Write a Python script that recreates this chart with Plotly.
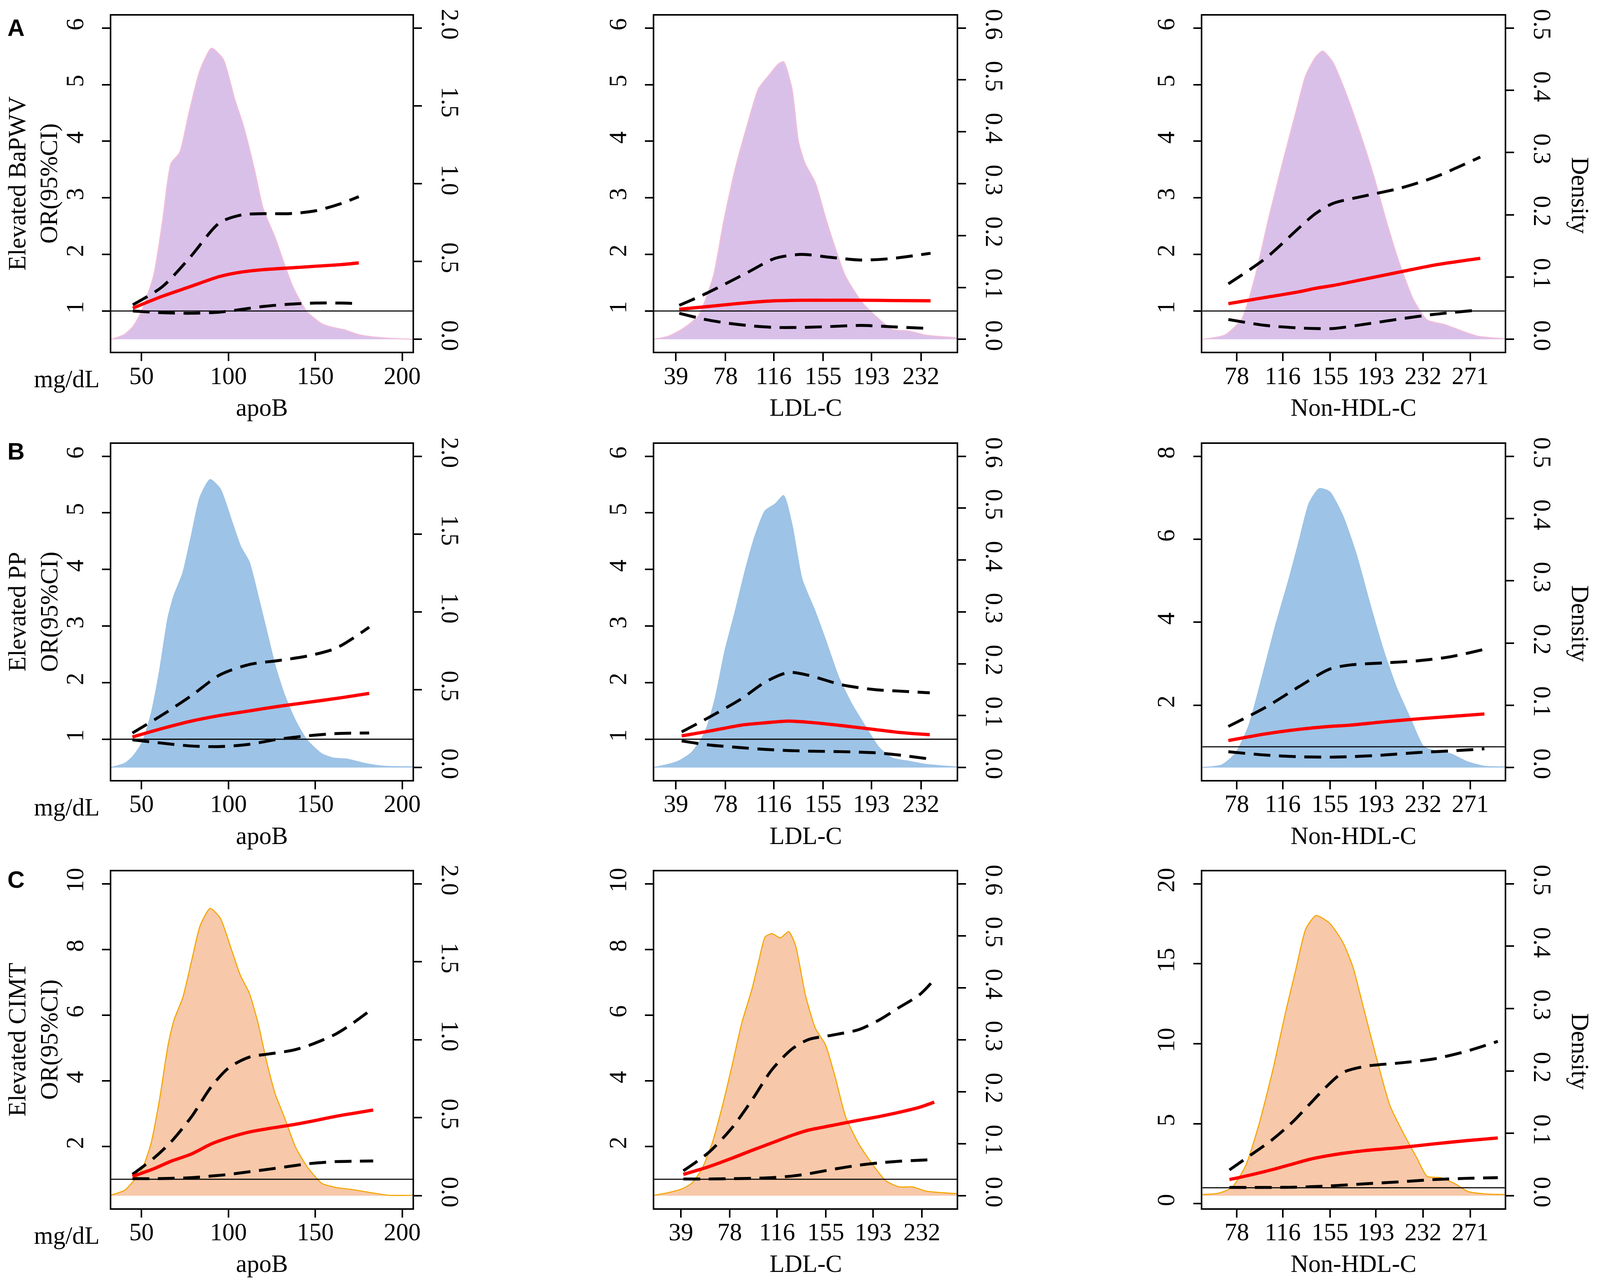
import plotly.graph_objects as go

# reference picture size (positions below are given in its pixels)
W, H = 4562, 3291
# the page is drawn at a slightly larger device scale, so sizes in px are scaled down
S = 0.93

# ------------------------------------------------------------------
# Values
# ------------------------------------------------------------------
# --- Row A: Elevated BaPWV ---
a_apob_dx = [32.6, 40, 45, 50, 57, 62, 67, 72, 77, 83.7, 90.3, 97, 103.7, 108.7, 115, 120, 127, 132,
             137, 145, 153.7, 158.7, 167, 175, 183.7, 195, 206]
a_apob_d = [0.0, 0.03, 0.08, 0.18, 0.41, 0.75, 1.13, 1.20, 1.44, 1.73, 1.87, 1.80, 1.54, 1.37, 1.09, 0.84,
            0.65, 0.49, 0.34, 0.18, 0.10, 0.08, 0.06, 0.03, 0.015, 0.005, 0.0]
a_apob_x = [45, 62, 78, 95, 108, 120, 135, 150, 165, 175]
a_apob_or = [1.05, 1.26, 1.43, 1.61, 1.69, 1.73, 1.76, 1.79, 1.82, 1.85]
a_apob_hi = [1.11, 1.43, 1.95, 2.56, 2.70, 2.72, 2.72, 2.77, 2.90, 3.02]
a_apob_lo = [1.00, 0.97, 0.96, 0.98, 1.03, 1.08, 1.12, 1.14, 1.14, 1.13]

a_ldl_dx = [21.9, 33, 43.5, 56.6, 68.5, 76.4, 85.6, 96.1, 104, 111.9, 119.8, 123.8, 130.4, 135.6, 140.9,
            148.8, 158, 172.5, 185.7, 196.2, 209.4, 222.5, 235.7, 260]
a_ldl_d = [0.0, 0.006, 0.019, 0.045, 0.122, 0.225, 0.328, 0.421, 0.483, 0.508, 0.531, 0.535, 0.483, 0.380,
           0.338, 0.302, 0.225, 0.122, 0.071, 0.045, 0.019, 0.016, 0.008, 0.003]
a_ldl_x = [41.6, 60, 78, 97, 117, 138, 160, 185, 210, 239.6]
a_ldl_or = [1.03, 1.07, 1.11, 1.15, 1.18, 1.19, 1.19, 1.19, 1.185, 1.18]
a_ldl_hi = [1.10, 1.28, 1.48, 1.70, 1.93, 2.00, 1.95, 1.90, 1.93, 2.02]
a_ldl_lo = [0.96, 0.86, 0.79, 0.74, 0.71, 0.71, 0.725, 0.745, 0.72, 0.69]

a_nhdl_dx = [49.6, 68.3, 82.2, 93.3, 104.5, 115.6, 126.7, 135, 143.4, 149, 157.4, 168.5, 179.6, 190.8,
             201.9, 213, 224.2, 235.3, 249.3, 263.2, 277.1, 299.4]
a_nhdl_d = [0.0, 0.007, 0.033, 0.102, 0.196, 0.282, 0.364, 0.424, 0.454, 0.463, 0.445, 0.394, 0.333, 0.265,
            0.188, 0.119, 0.063, 0.031, 0.024, 0.014, 0.005, 0.001]
a_nhdl_x = [71, 101.7, 129.5, 143, 157.4, 185.2, 213, 241, 279.3]
a_nhdl_or = [1.13, 1.24, 1.34, 1.40, 1.45, 1.57, 1.69, 1.81, 1.93]
a_nhdl_hi = [1.48, 1.93, 2.47, 2.72, 2.90, 3.04, 3.17, 3.36, 3.72]
a_nhdl_lo = [0.85, 0.745, 0.70, 0.69, 0.69, 0.77, 0.86, 0.94, 1.02]

# --- Row B: Elevated PP ---
b_apob_dx = [32.5, 40.3, 45, 50.3, 55.3, 60.3, 65.3, 68.7, 73.7, 78.7, 83.7, 89.5, 95.3, 102, 107, 112,
             117, 122, 127, 132, 138.7, 145.3, 153.7, 160.3, 168.7, 178.7, 188.7, 206]
b_apob_d = [0.0, 0.026, 0.07, 0.158, 0.333, 0.614, 0.965, 1.105, 1.246, 1.49, 1.737, 1.85, 1.79, 1.58,
            1.42, 1.32, 1.105, 0.877, 0.65, 0.474, 0.298, 0.175, 0.088, 0.061, 0.053, 0.026, 0.009, 0.004]
b_apob_x = [44.8, 62, 78.7, 95.3, 112, 128.7, 145.3, 162, 181]
b_apob_or = [1.04, 1.19, 1.32, 1.42, 1.50, 1.58, 1.65, 1.72, 1.81]
b_apob_hi = [1.11, 1.43, 1.77, 2.14, 2.32, 2.39, 2.47, 2.61, 2.98]
b_apob_lo = [0.99, 0.93, 0.88, 0.87, 0.91, 1.00, 1.06, 1.10, 1.11]

b_ldl_dx = [21.9, 33, 40.8, 51.4, 61.9, 69.8, 77.7, 85.6, 93.5, 101.4, 109.3, 117.2, 123.8, 130.4, 138.3,
            148.8, 156.7, 167.2, 177.8, 188.3, 198.8, 209.4, 222.5, 235.7, 260]
b_ldl_d = [0.0, 0.006, 0.012, 0.029, 0.068, 0.132, 0.226, 0.30, 0.379, 0.447, 0.495, 0.508, 0.524, 0.468,
           0.363, 0.30, 0.247, 0.174, 0.121, 0.079, 0.039, 0.018, 0.012, 0.006, 0.001]
b_ldl_x = [43.5, 64.5, 90.9, 109.3, 127.7, 143.5, 169.9, 196.2, 215, 239]
b_ldl_or = [1.06, 1.14, 1.25, 1.29, 1.32, 1.30, 1.24, 1.17, 1.12, 1.08]
b_ldl_hi = [1.13, 1.38, 1.72, 2.01, 2.18, 2.13, 1.96, 1.875, 1.85, 1.82]
b_ldl_lo = [0.97, 0.90, 0.85, 0.82, 0.80, 0.79, 0.78, 0.76, 0.72, 0.65]

b_nhdl_dx = [49.6, 65.5, 76.6, 87.7, 98.9, 110, 121.2, 129.5, 137.9, 146.2, 154.6, 165.7, 176.8, 188,
             199.1, 210.3, 221.4, 232.6, 243.7, 254.8, 268.8, 282.7, 299.4]
b_nhdl_d = [0.0, 0.004, 0.022, 0.066, 0.145, 0.228, 0.303, 0.364, 0.425, 0.448, 0.443, 0.404, 0.342, 0.263,
            0.189, 0.127, 0.079, 0.033, 0.026, 0.022, 0.009, 0.002, 0.001]
b_nhdl_x = [71, 101.7, 129.5, 154.6, 171.3, 199.1, 227, 254.8, 282.7]
b_nhdl_or = [1.15, 1.31, 1.42, 1.49, 1.52, 1.60, 1.67, 1.73, 1.79]
b_nhdl_hi = [1.49, 1.95, 2.45, 2.87, 2.97, 3.02, 3.07, 3.17, 3.35]
b_nhdl_lo = [0.88, 0.80, 0.76, 0.75, 0.76, 0.80, 0.86, 0.90, 0.95]

# --- Row C: Elevated CIMT ---
c_apob_dx = [32.5, 40.3, 45, 50.3, 55.3, 60.3, 65.3, 68.7, 73.7, 78.7, 83.7, 89.5, 95.3, 102, 107, 112,
             117, 122, 127, 132, 138.7, 145.3, 153.7, 162, 170.3, 180.3, 192, 206]
c_apob_d = [0.004, 0.035, 0.089, 0.169, 0.328, 0.612, 0.967, 1.127, 1.269, 1.50, 1.73, 1.842, 1.78, 1.57,
            1.41, 1.30, 1.11, 0.86, 0.65, 0.51, 0.31, 0.186, 0.08, 0.053, 0.041, 0.023, 0.003, 0.003]
c_apob_x = [44.8, 57, 67, 78.7, 90.3, 100.3, 112, 123.7, 137, 147, 162, 172, 183.3]
c_apob_or = [1.09, 1.32, 1.55, 1.77, 2.08, 2.27, 2.44, 2.55, 2.66, 2.76, 2.92, 3.01, 3.11]
c_apob_hi = [1.15, 1.64, 2.14, 2.90, 3.83, 4.40, 4.72, 4.82, 4.93, 5.09, 5.43, 5.77, 6.21]
c_apob_lo = [1.02, 1.02, 1.03, 1.05, 1.10, 1.15, 1.23, 1.31, 1.41, 1.48, 1.54, 1.55, 1.56]

c_ldl_dx = [17.6, 28.8, 39.5, 47.6, 55.6, 63.7, 71.7, 79.7, 87.8, 95.8, 101.2, 106.5, 111.9, 118.6, 125.3,
            130.7, 138.7, 146.7, 154.8, 162.8, 170.9, 181.6, 192.3, 203, 213.7, 224.5, 235.2, 259.9]
c_ldl_d = [0.001, 0.006, 0.013, 0.024, 0.051, 0.099, 0.168, 0.248, 0.333, 0.397, 0.45, 0.498, 0.504, 0.496,
           0.508, 0.482, 0.386, 0.322, 0.29, 0.226, 0.152, 0.099, 0.061, 0.029, 0.017, 0.017, 0.009, 0.004]
c_ldl_x = [40.9, 61, 79.7, 95.8, 111.9, 128, 141.4, 160.1, 181.6, 197.7, 213.7, 229.8, 241.9]
c_ldl_or = [1.15, 1.38, 1.64, 1.88, 2.11, 2.34, 2.50, 2.64, 2.80, 2.91, 3.04, 3.19, 3.35]
c_ldl_hi = [1.26, 1.81, 2.56, 3.41, 4.34, 4.97, 5.26, 5.39, 5.56, 5.85, 6.23, 6.61, 7.08]
c_ldl_lo = [1.01, 1.01, 1.02, 1.03, 1.05, 1.10, 1.17, 1.30, 1.43, 1.50, 1.55, 1.58, 1.60]

c_nhdl_dx = [49.6, 62.7, 73.8, 85, 96.1, 107.2, 118.4, 126.7, 135.1, 143.4, 154.6, 165.7, 174.1, 182.4,
             193.6, 204.7, 215.8, 227, 235.3, 246.5, 257.6, 268.8, 282.7, 299.4]
c_nhdl_d = [0.002, 0.004, 0.013, 0.047, 0.113, 0.197, 0.295, 0.362, 0.428, 0.449, 0.437, 0.406, 0.366,
            0.304, 0.22, 0.144, 0.10, 0.06, 0.031, 0.029, 0.02, 0.007, 0.003, 0.002]
c_nhdl_x = [71.9, 87.7, 107.2, 124, 137.9, 151.8, 165.7, 185.2, 213, 240.9, 268.8, 293.8]
c_nhdl_or = [1.51, 1.77, 2.13, 2.48, 2.77, 2.98, 3.15, 3.33, 3.51, 3.74, 3.95, 4.11]
c_nhdl_hi = [2.11, 2.95, 4.0, 5.1, 6.2, 7.3, 8.2, 8.6, 8.8, 9.05, 9.55, 10.15]
c_nhdl_lo = [1.02, 1.02, 1.02, 1.03, 1.06, 1.10, 1.16, 1.25, 1.37, 1.51, 1.59, 1.63]

# tick labels
apob_ticks = [50, 100, 150, 200]
mmol_ticks_ldl = [39, 78, 116, 155, 193, 232]
mmol_ticks_nhdl = [78, 116, 155, 193, 232, 271]
row_labels = ["A", "B", "C"]
row_outcomes = ["Elevated BaPWV", "Elevated PP", "Elevated CIMT"]
col_titles = ["apoB", "LDL-C", "Non-HDL-C"]

# ------------------------------------------------------------------
# layout geometry (pixels in the reference picture)
# ------------------------------------------------------------------
col_px = [(311, 1178), (1873, 2743), (3450, 4319)]
row_px = [(15, 884), (1122, 1991), (2227, 3098)]

fills = ["#D9C0E9", "#9DC3E6", "#F7C8A9"]
edges = ["#F3BED8", "#9DC3E6", "#F5A500"]

FONT = "Liberation Serif"
FS = round(68 * S)

apob_x_range = [32.6, 206]
ldl_x_range = [21.9, 260.2]
nhdl_x_range = [49.6, 299.4]
apob_d_axis = dict(range=[-0.08, 2.08], tickvals=[0, 0.5, 1.0, 1.5, 2.0])
ldl_d_axis = dict(range=[-0.024, 0.624], tickvals=[0, 0.1, 0.2, 0.3, 0.4, 0.5, 0.6])
nhdl_d_axis = dict(range=[-0.02, 0.52], tickvals=[0, 0.1, 0.2, 0.3, 0.4, 0.5])
or6 = dict(range=[0.28, 6.22], tickvals=[1, 2, 3, 4, 5, 6])
or8 = dict(range=[0.2, 8.3], tickvals=[2, 4, 6, 8])
or10 = dict(range=[0.12, 10.38], tickvals=[2, 4, 6, 8, 10])
or20 = dict(range=[-0.28, 20.78], tickvals=[0, 5, 10, 15, 20])

panels = [
    dict(dx=a_apob_dx, d=a_apob_d, x=a_apob_x, o=a_apob_or, hi=a_apob_hi, lo=a_apob_lo,
         xr=apob_x_range, xt=apob_ticks, dax=apob_d_axis, oax=or6),
    dict(dx=a_ldl_dx, d=a_ldl_d, x=a_ldl_x, o=a_ldl_or, hi=a_ldl_hi, lo=a_ldl_lo,
         xr=ldl_x_range, xt=mmol_ticks_ldl, dax=ldl_d_axis, oax=or6),
    dict(dx=a_nhdl_dx, d=a_nhdl_d, x=a_nhdl_x, o=a_nhdl_or, hi=a_nhdl_hi, lo=a_nhdl_lo,
         xr=nhdl_x_range, xt=mmol_ticks_nhdl, dax=nhdl_d_axis, oax=or6),
    dict(dx=b_apob_dx, d=b_apob_d, x=b_apob_x, o=b_apob_or, hi=b_apob_hi, lo=b_apob_lo,
         xr=apob_x_range, xt=apob_ticks, dax=apob_d_axis, oax=or6),
    dict(dx=b_ldl_dx, d=b_ldl_d, x=b_ldl_x, o=b_ldl_or, hi=b_ldl_hi, lo=b_ldl_lo,
         xr=ldl_x_range, xt=mmol_ticks_ldl, dax=ldl_d_axis, oax=or6),
    dict(dx=b_nhdl_dx, d=b_nhdl_d, x=b_nhdl_x, o=b_nhdl_or, hi=b_nhdl_hi, lo=b_nhdl_lo,
         xr=nhdl_x_range, xt=mmol_ticks_nhdl, dax=nhdl_d_axis, oax=or8),
    dict(dx=c_apob_dx, d=c_apob_d, x=c_apob_x, o=c_apob_or, hi=c_apob_hi, lo=c_apob_lo,
         xr=apob_x_range, xt=apob_ticks, dax=apob_d_axis, oax=or10),
    dict(dx=c_ldl_dx, d=c_ldl_d, x=c_ldl_x, o=c_ldl_or, hi=c_ldl_hi, lo=c_ldl_lo,
         xr=[17.6, 259.9], xt=mmol_ticks_ldl, dax=ldl_d_axis, oax=or10),
    dict(dx=c_nhdl_dx, d=c_nhdl_d, x=c_nhdl_x, o=c_nhdl_or, hi=c_nhdl_hi, lo=c_nhdl_lo,
         xr=nhdl_x_range, xt=mmol_ticks_nhdl, dax=nhdl_d_axis, oax=or20),
]


def px_x(p):
    return p / W


def px_y(p):
    return 1 - p / H


fig = go.Figure()
axis_common = dict(showline=True, linecolor="black", linewidth=4 * S, ticks="outside",
                   ticklen=round(21 * S), tickwidth=4 * S, tickcolor="black", showgrid=False,
                   zeroline=False, tickfont=dict(family=FONT, size=FS, color="black"),
                   fixedrange=True)
dash = f"{46 * S:.0f}px,{24 * S:.0f}px"
shapes = []
annotations = []

for k, p in enumerate(panels):
    r, c = divmod(k, 3)
    xn = "x" if k == 0 else f"x{k + 1}"
    ydn = "y" if k == 0 else f"y{2 * k + 1}"
    yon = f"y{2 * k + 2}"
    xkey = "xaxis" if k == 0 else f"xaxis{k + 1}"
    ydkey = "yaxis" if k == 0 else f"yaxis{2 * k + 1}"
    yokey = f"yaxis{2 * k + 2}"

    # density (drawn underneath, on the right-hand axis)
    fig.add_trace(go.Scatter(x=p["dx"], y=p["d"], mode="lines", fill="tozeroy",
                             fillcolor=fills[r],
                             line=dict(color=edges[r], width=3 * S, shape="spline", smoothing=0.6),
                             xaxis=xn, yaxis=ydn, hoverinfo="skip", showlegend=False))
    # OR curve and confidence band
    for ys, col, ds, wd in [(p["hi"], "black", dash, 8),
                            (p["lo"], "black", dash, 8),
                            (p["o"], "#FF0000", "solid", 9)]:
        fig.add_trace(go.Scatter(x=p["x"], y=ys, mode="lines",
                                 line=dict(color=col, width=wd * S, dash=ds, shape="spline",
                                           smoothing=0.8),
                                 xaxis=xn, yaxis=yon, hoverinfo="skip", showlegend=False))

    xl, xr_ = col_px[c]
    yt, yb = row_px[r]
    xt = p["xt"]
    fig.layout[xkey] = dict(axis_common, domain=[px_x(xl), px_x(xr_)], range=p["xr"], anchor=ydn,
                            mirror=True, tickvals=xt, ticktext=[str(v) for v in xt],
                            ticklabelstandoff=round(-18 * S))
    dax = p["dax"]
    fig.layout[ydkey] = dict(axis_common, domain=[px_y(yb), px_y(yt)], range=dax["range"],
                             anchor=xn, side="right", tickvals=dax["tickvals"],
                             ticktext=[f"{v:.1f}" for v in dax["tickvals"]], tickangle=90,
                             ticklabelstandoff=round(28 * S))
    oax = p["oax"]
    fig.layout[yokey] = dict(axis_common, overlaying=ydn, anchor=xn, side="left",
                             range=oax["range"], tickvals=oax["tickvals"],
                             ticktext=[str(v) for v in oax["tickvals"]], tickangle=-90,
                             ticklabelstandoff=round(25 * S))

    # reference line OR = 1
    shapes.append(dict(type="line", xref=f"{xn} domain", x0=0, x1=1, yref=yon, y0=1, y1=1,
                       line=dict(color="black", width=3 * S), layer="above"))

    # x axis title
    annotations.append(dict(text=col_titles[c], x=px_x((xl + xr_) / 2), y=px_y(yb + 144),
                            xref="paper", yref="paper", showarrow=False,
                            font=dict(family=FONT, size=FS, color="black"),
                            xanchor="center", yanchor="middle"))
    if c == 0:
        annotations.append(dict(text="mg/dL", x=px_x(183), y=px_y(yb + 71), xref="paper",
                                yref="paper", showarrow=False,
                                font=dict(family=FONT, size=FS, color="black"),
                                xanchor="center", yanchor="middle"))
        annotations.append(dict(text=f"{row_outcomes[r]}<br>OR(95%CI)", x=px_x(86),
                                y=px_y((yt + yb) / 2), xref="paper", yref="paper",
                                showarrow=False, textangle=-90,
                                font=dict(family=FONT, size=FS, color="black"),
                                xanchor="center", yanchor="middle"))
        annotations.append(dict(text=f"<b>{row_labels[r]}</b>", x=px_x(37),
                                y=px_y([46, 1141, 2249][r]), xref="paper", yref="paper",
                                showarrow=False,
                                font=dict(family="Liberation Sans", size=round(66 * S),
                                          color="black"),
                                xanchor="center", yanchor="middle"))
    if c == 2:
        annotations.append(dict(text="Density", x=px_x(4537), y=px_y((yt + yb) / 2 + 30),
                                xref="paper", yref="paper", showarrow=False, textangle=90,
                                font=dict(family=FONT, size=FS, color="black"),
                                xanchor="center", yanchor="middle"))

# no fixed width/height: the figure fills the browser window
fig.update_layout(margin=dict(l=0, r=0, t=0, b=0),
                  paper_bgcolor="white", plot_bgcolor="rgba(0,0,0,0)",
                  font=dict(family=FONT, size=FS, color="black"),
                  shapes=shapes, annotations=annotations, showlegend=False)

fig.write_html("out.html")
